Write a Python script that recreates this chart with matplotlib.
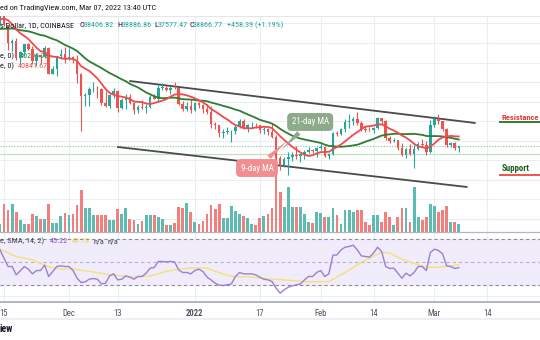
import matplotlib
matplotlib.use("Agg")
import matplotlib.pyplot as plt
import matplotlib.transforms as mtransforms
import numpy as np
import pandas as pd
from matplotlib import font_manager
from matplotlib.lines import Line2D

W, H = 540, 340

# ---- data: BTC/USD daily candles, 2021-11-14 .. 2022-03-07 ----
start = pd.Timestamp("2021-11-14")

opens = [64380, 65500, 63600, 60100, 60350, 56900, 58100, 59750, 58700, 56300,
         57550, 57150, 58950, 53700, 54750, 57300, 57800, 57000, 57200, 56500,
         53600, 49200, 49400, 50550, 50600, 50500, 47600, 47150, 49400, 50100,
         46700, 48350, 48900, 47650, 46200, 46850, 46700, 46900, 49000, 48600,
         50800, 50850, 50450, 50800, 50700, 47550, 46450, 47150, 46200, 47750,
         47300, 46450, 45850, 43450, 43100, 41550, 41700, 41850, 41850, 42750,
         43950, 42600, 43100, 43200, 43100, 42250, 42400, 41700, 40700, 36450,
         35050, 36300, 36700, 36950, 36850, 37200, 37700, 38150, 37900, 38450,
         38700, 36900, 37300, 41550, 41400, 42400, 43850, 44050, 44400, 43550,
         42400, 42200, 42100, 42550, 44550, 43900, 40550, 40000, 40100, 38400,
         37050, 38300, 37300, 38300, 39200, 39100, 37700, 43200, 44400, 43900,
         42450, 39150, 39400, 38406.82]
highs = [65600, 66340, 63650, 60800, 60950, 58350, 59850, 60050, 59300, 58000,
         57750, 59400, 59150, 55300, 57400, 58850, 59200, 59050, 57400, 57600,
         53850, 49700, 50900, 51950, 51200, 50800, 50100, 49500, 50800, 50300,
         48700, 49500, 49450, 48000, 47300, 48300, 47550, 49300, 49550, 51350,
         51850, 51200, 51250, 52100, 50750, 48150, 47900, 48550, 47950, 47950,
         47550, 47500, 47100, 43750, 43150, 42300, 42800, 42250, 43100, 44400,
         44450, 43450, 43800, 43500, 43200, 42700, 42600, 43500, 41100, 36850,
         36550, 37550, 37550, 38900, 37250, 38000, 38700, 38350, 38750, 39250,
         38850, 37400, 41700, 41900, 42650, 44500, 45450, 44800, 45850, 43950,
         43000, 42750, 42850, 44750, 44600, 44200, 40950, 40450, 40150, 39500,
         38450, 39300, 39000, 39700, 40300, 39900, 44200, 44950, 45400, 44100,
         42550, 39650, 39650, 38886.86]
lows = [63600, 63400, 58600, 58400, 56500, 55600, 57400, 58500, 55650, 55300,
        55850, 57000, 53550, 53650, 53300, 56700, 55900, 56450, 55850, 51700,
        42000, 47050, 47100, 50050, 48650, 47350, 46900, 46650, 48650, 45800,
        46500, 46550, 47550, 45500, 45550, 46450, 45600, 46650, 48450, 47950,
        50450, 50250, 49450, 50500, 47350, 46100, 46000, 45700, 46100, 46650,
        45700, 45500, 42500, 42450, 40650, 40500, 41250, 39650, 41300, 42500,
        42350, 41750, 42650, 42600, 41550, 41300, 41150, 40600, 35450, 34050,
        34650, 32950, 35750, 36250, 35550, 36200, 37400, 37350, 36650, 38000,
        36600, 36250, 37050, 40950, 41100, 41700, 42650, 43150, 43200, 42000,
        41800, 41850, 41600, 42450, 43350, 40100, 39450, 39650, 38000, 36800,
        36350, 37050, 34300, 38050, 38600, 37050, 37450, 42850, 43350, 41850,
        38650, 38600, 38100, 37577.47]
closes = [65500, 63600, 60100, 60350, 56900, 58100, 59750, 58700, 56300, 57550,
          57150, 58950, 53700, 54750, 57300, 57800, 57000, 57200, 56500, 53600,
          49200, 49400, 50550, 50600, 50500, 47600, 47150, 49400, 50100, 46700,
          48350, 48900, 47650, 46200, 46850, 46700, 46900, 49000, 48600, 50800,
          50850, 50450, 50800, 50700, 47550, 46450, 47150, 46200, 47750, 47300,
          46450, 45850, 43450, 43100, 41550, 41700, 41850, 41850, 42750, 43950,
          42600, 43100, 43200, 43100, 42250, 42400, 41700, 40700, 36450, 35050,
          36300, 36700, 36950, 36850, 37200, 37700, 38150, 37900, 38450, 38700,
          36900, 37300, 41550, 41400, 42400, 43850, 44050, 44400, 43550, 42400,
          42200, 42100, 42550, 44550, 43900, 40550, 40000, 40100, 38400, 37050,
          38300, 37300, 38300, 39200, 39100, 37700, 43200, 44400, 43900, 42450,
          39150, 39400, 38406.82, 38866.77]
# thousand BTC
volumes = [4, 14, 11, 14, 10, 6, 4, 4, 9, 8,
           6.5, 6.5, 14, 4.5, 4.5, 8, 9.5, 8.5, 9, 13.5,
           21, 12, 12, 8.5, 8.5, 8.5, 8.5, 6, 6, 11.5,
           9, 12, 6.5, 6, 4, 5.5, 8.5, 8.5, 8.5, 7.5,
           6.5, 3.5, 3.5, 4.5, 12.5, 12, 14.5, 10, 5, 4,
           5.5, 9, 13.5, 11.5, 14, 7, 7, 13, 10.5, 9,
           8, 7, 4, 3.5, 7, 8, 9, 12, 40, 20,
           12.5, 22.5, 12.5, 12.5, 12.5, 9, 5, 4.5, 10, 9.5,
           7.5, 7.5, 12, 8.5, 4, 11, 11, 10, 11, 11,
           5, 3.5, 8.5, 8.5, 5, 10, 7.5, 3.5, 7.5, 12,
           12, 5, 22.5, 7.5, 6, 7.5, 14, 13, 10, 11,
           13, 5, 5, 4]
# closes of 2021-10-25 .. 2021-11-13, only used to start the moving averages
warmup_close = [63050, 60350, 58450, 60600, 62250, 61850, 61300, 61000, 63250, 62950,
                61450, 61000, 61550, 63300, 67550, 66950, 64950, 64850, 64150, 64400]

rsi = [60.8, 53.5, 46.2, 46.2, 38.9, 42.4, 46.2, 43.9, 39.8, 42.7,
       42.7, 47.4, 37.5, 41.8, 46.2, 46.8, 46.2, 46.2, 42.7, 36.0,
       32.2, 32.8, 35.1, 35.7, 35.1, 31.0, 31.6, 38.0, 39.8, 34.5,
       35.1, 38.0, 36.9, 35.1, 37.5, 37.5, 40.4, 44.8, 45.3, 50.6,
       50.6, 50.3, 50.6, 50.3, 43.3, 41.0, 41.0, 39.8, 42.7, 43.9,
       41.8, 36.9, 34.5, 31.6, 29.9, 29.6, 30.2, 31.0, 37.5, 41.0,
       39.8, 39.8, 39.8, 38.9, 36.9, 35.1, 34.5, 33.1, 27.3, 22.9,
       25.8, 28.1, 29.3, 30.2, 31.0, 34.5, 37.5, 37.5, 41.0, 42.7,
       37.5, 39.8, 56.1, 56.4, 60.8, 63.1, 63.7, 64.9, 60.8, 55.5,
       55.0, 54.4, 57.9, 63.1, 59.3, 46.2, 44.5, 44.8, 40.4, 36.0,
       40.4, 38.0, 41.0, 46.2, 46.2, 42.7, 58.5, 61.4, 60.2, 57.3,
       46.8, 46.2, 44.5, 45.22]
rsi_ma_day = [0, 4, 8, 12, 15, 18, 22, 27, 33, 37, 41, 44, 48, 51, 53, 57, 62, 66,
              70, 75, 81, 83, 86, 89, 91, 94, 96, 99, 103, 105, 108, 111, 113]
rsi_ma = [61.4, 55, 52, 46, 44, 44, 42, 39, 37, 38, 42, 44, 45, 45, 42, 37.5, 37, 35.5,
          34.5, 33, 33, 37, 43, 50, 53.5, 58.5, 58, 52.5, 47.7, 45.6, 45.6, 46.8, 47.73]

# hand drawn channel: (date, price) at both ends
upper_channel = (["2021-12-16", "2022-03-11"], [52200, 43600])
lower_channel = (["2021-12-13", "2022-03-09"], [38670, 30470])
last_price = 38866.77
flat_level = 37200

tick_dates = ["2021-11-15", "2021-12-01", "2021-12-13", "2022-01-01", "2022-01-17",
              "2022-02-01", "2022-02-14", "2022-03-01", "2022-03-14"]
tick_labels = ["15", "Dec", "13", "2022", "17", "Feb", "14", "Mar", "14"]


def day(d):
    return (pd.Timestamp(d) - start).days


UP, DOWN = "#26a69a", "#ef5350"
GRID = "#e9eef3"
TEXT = "#131722"

installed = {f.name for f in font_manager.fontManager.ttflist}
narrow = next((f for f in ["Liberation Sans Narrow", "DejaVu Sans Condensed", "Roboto Condensed"]
               if f in installed), "Liberation Sans")
plt.rcParams["font.family"] = [narrow, "DejaVu Sans"]

fig = plt.figure(figsize=(W / 100, H / 100), dpi=100)


def px_rect(top, bottom):
    return [0, 1 - bottom / H, 1, (bottom - top) / H]


def ftext(x, y, s, **kw):
    kw.setdefault("fontsize", 5.9)
    kw.setdefault("color", TEXT)
    return fig.text(x / W, 1 - y / H, s, ha="left", va="center", **kw)


ax = fig.add_axes(px_rect(15.5, 232))
ax_vol = ax.twinx()
ax_rsi = fig.add_axes(px_rect(232, 302.3), sharex=ax)
ax.set_zorder(ax_vol.get_zorder() + 1)
ax.patch.set_visible(False)

x = np.arange(len(closes))
o, h, l, c = map(np.asarray, (opens, highs, lows, closes))
colors = np.where(c >= o, UP, DOWN)

ax.set_xlim(0.015, 133.0)
ax.set_ylim(21236, 65640)
ax_vol.set_ylim(0, 108.25)
ax_rsi.set_ylim(14.9, 76.4)

ticks = [day(d) for d in tick_dates]

# grid behind everything (on the volume axes)
blend = mtransforms.blended_transform_factory(ax_vol.transAxes, ax.transData)
ax_vol.hlines(np.arange(24000, 66000, 4000), 0, 1, transform=blend, color=GRID, lw=0.8, zorder=0)
for t in ticks:
    ax_vol.axvline(t, color=GRID, lw=0.8, zorder=0)
    ax_rsi.axvline(t, color=GRID, lw=0.8, zorder=0)

# volume
vol_colors = np.where(c >= o, "#5cbcb3", "#f37e7c")
ax_vol.bar(x, volumes, width=0.68, color=vol_colors, zorder=2)

# legend text sits under the candles
ftext(0, 56, "e, 0)", zorder=0)
ftext(20, 56, "40206.78", color="#2e7d32", zorder=0)
ftext(0, 66, "e, 0)", zorder=0)
ftext(18, 66, "40841.67", color="#ef5350", zorder=0)

# level lines
ax.axhline(last_price, color="#7cc8a0", lw=0.8, ls=(0, (1, 1.5)))
ax.axhline(flat_level, color="#bfe3bf", lw=0.9)

# channel
for dates, prices in (upper_channel, lower_channel):
    ax.plot([day(d) for d in dates], prices, color="#4a4a4a", lw=1.3, solid_capstyle="round")

# candles
ax.vlines(x, l, h, colors=colors, lw=0.8, zorder=3)
body = np.maximum(np.abs(c - o), 80)
ax.bar(x, body, bottom=np.minimum(o, c), width=0.62, color=colors, zorder=4)

# moving averages
all_close = pd.Series(warmup_close + closes)
ma9 = all_close.rolling(9).mean().to_numpy()[len(warmup_close):]
ma21 = all_close.rolling(21).mean().to_numpy()[len(warmup_close):]
ax.plot(x, ma21, color="#2e7d32", lw=1.3, zorder=5)
ax.plot(x, ma9, color="#f04a4d", lw=1.3, zorder=5)

# callouts
ax.annotate("21-day MA", xy=(68.7, 37640), xytext=(76.4, 43800), color="white",
            fontsize=6.4, ha="center", va="center", zorder=6,
            bbox=dict(boxstyle="round,pad=0.5,rounding_size=0.5", fc="#8dab8a", ec="none"),
            arrowprops=dict(arrowstyle="wedge,tail_width=0.55,shrink_factor=0.4",
                            fc="#8dab8a", ec="none"))
ax.annotate("9-day MA", xy=(71.5, 40500), xytext=(63.3, 34360), color="white",
            fontsize=6.4, ha="center", va="center", zorder=6,
            bbox=dict(boxstyle="round,pad=0.5,rounding_size=0.5", fc="#f28e91", ec="none"),
            arrowprops=dict(arrowstyle="wedge,tail_width=0.55,shrink_factor=0.4",
                            fc="#f28e91", ec="none"))

# resistance / support tags
ax.text(123.4, 44820, "Resistance", color="#e5393b", fontsize=6.1, fontweight="bold",
        ha="left", va="center")
ax.plot([123.2, 133.0], [43800, 43800], color="#2e7d32", lw=1.4)
ax.text(123.6, 34160, "Support", color="#1b5e20", fontsize=6.4, fontweight="bold",
        ha="left", va="center")
ax.plot([123.2, 133.0], [32930, 32930], color="#ef5350", lw=1.4)

for a in (ax, ax_vol):
    for s in a.spines.values():
        s.set_visible(False)
    a.set_yticks([])
    a.tick_params(axis="x", bottom=False, labelbottom=False)
ax.spines["top"].set_visible(True)
ax.spines["top"].set_color("#e3e7ed")
ax.spines["top"].set_linewidth(0.8)

# RSI pane
ax_rsi.axhspan(30, 70, color="#f1ecfb", zorder=0)
for lv in (20, 40, 60):
    ax_rsi.axhline(lv, color=GRID, lw=0.8, zorder=0)
for lv, col in ((70, "#8a8d96"), (50, "#b3b5bc"), (30, "#8a8d96")):
    ax_rsi.axhline(lv, color=col, lw=0.8, ls=(0, (3, 2.5)), zorder=1)
ax_rsi.plot(rsi_ma_day, rsi_ma, color="#f3e07a", lw=1.0, zorder=2)
ax_rsi.plot(x, rsi, color="#9a7fd6", lw=1.0, zorder=3)
ax_rsi.set_yticks([])
ax_rsi.set_xticks(ticks)
ax_rsi.set_xticklabels(tick_labels)
ax_rsi.tick_params(axis="x", length=0, pad=4.5, labelsize=6.2, labelcolor="#50535e")
for lab in ax_rsi.get_xticklabels():
    if lab.get_text() == "2022":
        lab.set_fontweight("bold")
for side in ("left", "right"):
    ax_rsi.spines[side].set_visible(False)
ax_rsi.spines["top"].set_color("#b2b5be")
ax_rsi.spines["top"].set_linewidth(0.9)
ax_rsi.spines["bottom"].set_color("#b2b5be")
ax_rsi.spines["bottom"].set_linewidth(1.4)

# header text
ftext(0, 8, "ed on TradingView.com, Mar 07, 2022 13:40 UTC")
ftext(0, 25, "s Dollar, 1D, COINBASE")
for label, lx, value, vx in (("O", 79, "38406.82", 84), ("H", 117, "38886.86", 122),
                             ("L", 154, "37577.47", 158), ("C", 189, "38866.77", 193)):
    ftext(lx, 25, label)
    ftext(vx, 25, value, color=UP)
ftext(227, 25, "+458.39 (+1.19%)", color=UP)

ftext(0, 241, "e, SMA, 14, 2)", color="#434651")
ftext(50, 241, "45.22", color="#7e57c2")
ftext(72, 241, "47.73", color="#e8cf4a")
ftext(93, 241, "n/a", color="#434651")
ftext(107, 241, "n/a", color="#434651")

# footer
fig.add_artist(Line2D([0, 1], [1 - 318.5 / H] * 2, color="#eceff3", lw=1.5))
ftext(0, 329, "iew", fontsize=7, fontweight="bold")

fig.savefig("out.png", dpi=100)
